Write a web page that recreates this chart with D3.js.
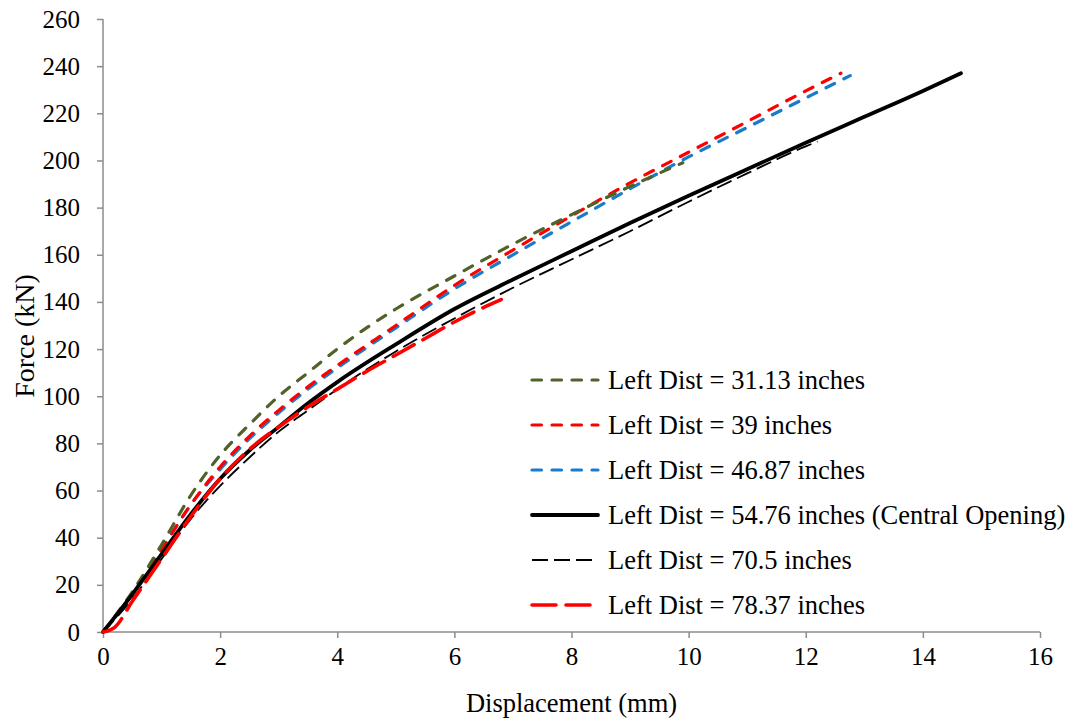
<!DOCTYPE html>
<html>
<head>
<meta charset="utf-8">
<script src="https://cdn.jsdelivr.net/npm/d3@7"></script>
<style>
  html, body { margin: 0; padding: 0; background: #fff; }
  svg { display: block; }
  text { font-family: "Liberation Serif", "Times New Roman", serif; fill: #000; }
</style>
</head>
<body>
<svg id="chart" width="1073" height="720"></svg>
<script>
// ---- data ----
const seriesLabels = [
  "Left Dist = 31.13 inches",
  "Left Dist = 39 inches",
  "Left Dist = 46.87 inches",
  "Left Dist = 54.76 inches (Central Opening)",
  "Left Dist = 70.5 inches",
  "Left Dist = 78.37 inches"
];
const xTicks = [0, 2, 4, 6, 8, 10, 12, 14, 16];
const yTicks = [0, 20, 40, 60, 80, 100, 120, 140, 160, 180, 200, 220, 240, 260];

const disp31 = [0, 0.5, 1, 1.5, 2, 2.5, 3, 3.5, 4, 4.5, 5, 6, 7, 8, 9, 9.9];
const force31 = [0, 17, 37, 58, 75, 88, 100, 110, 120, 129, 137, 151, 164.5, 177, 189, 199];

const disp39 = [0, 0.5, 1, 1.5, 2, 2.5, 3, 3.5, 4, 5, 6, 7, 8, 9, 10, 11, 12, 12.6];
const force39 = [0, 16, 35, 54, 70, 83, 94, 104, 113, 130, 147, 162, 176.5, 190.5, 203.5, 216.5, 229.5, 237];

const disp46 = [0, 0.5, 1, 1.5, 2, 2.5, 3, 3.5, 4, 5, 6, 7, 8, 9, 10, 11, 12, 12.76];
const force46 = [0, 16, 35, 54, 69, 82, 93, 103, 112, 129, 145.5, 160, 174, 188, 201.5, 214, 226.5, 236];

const disp54 = [0, 0.5, 1, 1.5, 2, 2.5, 3, 3.5, 4, 5, 6, 7, 8, 9, 10, 11, 12, 13, 14, 14.65];
const force54 = [0, 16, 33, 50, 65, 77, 87, 97, 106, 122, 137, 149.5, 161.5, 173.5, 185, 196.3, 207.5, 218.5, 229.5, 237];

const disp70 = [0, 0.5, 1, 1.5, 2, 2.5, 3, 3.5, 4, 5, 6, 7, 8, 9, 10, 11, 12, 12.2];
const force70 = [0, 14, 31, 48, 62, 74, 85, 94, 103, 119, 133, 146, 158, 170, 182.5, 194.5, 206, 208];

const disp78 = [0, 0.2, 0.5, 1, 1.5, 2, 2.5, 3, 3.5, 4, 4.5, 5, 5.5, 6, 6.4, 6.8];
const force78 = [0, 2, 13, 31, 49, 65, 77.5, 87, 95.5, 103, 110.5, 117.5, 124.5, 131.5, 136.5, 141];

// ---- layout ----
const W = 1073, H = 720;
const m = { left: 103, right: 33, top: 19, bottom: 88 };
const svg = d3.select("#chart");

const x = d3.scaleLinear().domain([0, 16]).range([m.left, W - m.right]);
const y = d3.scaleLinear().domain([0, 260]).range([H - m.bottom, m.top]);

const axisColor = "#8c8c8c";

// axes
const xAxis = svg.append("g")
  .attr("transform", `translate(0,${H - m.bottom})`)
  .call(d3.axisBottom(x).tickValues(xTicks).tickSize(6).tickPadding(9).tickFormat(d3.format("d")));
const yAxis = svg.append("g")
  .attr("transform", `translate(${m.left},0)`)
  .call(d3.axisLeft(y).tickValues(yTicks).tickSize(6).tickPadding(17).tickFormat(d3.format("d")));

[xAxis, yAxis].forEach(g => {
  g.select(".domain").attr("stroke", axisColor).attr("stroke-width", 1.5);
  g.selectAll(".tick line").attr("stroke", axisColor).attr("stroke-width", 1.5);
  g.selectAll(".tick text")
    .attr("font-family", '"Liberation Serif", "Times New Roman", serif')
    .attr("font-size", 25).attr("fill", "#000");
});
xAxis.select(".domain").attr("d", `M${x(0)},0H${x(16)}`);
yAxis.select(".domain").attr("d", `M0,${y(0)}V${y(260)}`);

// axis titles
svg.append("text")
  .attr("x", (x(0) + x(16)) / 2).attr("y", 712)
  .attr("text-anchor", "middle").attr("font-size", 26.5)
  .text("Displacement (mm)");
svg.append("text")
  .attr("transform", `translate(34,336) rotate(-90)`)
  .attr("text-anchor", "middle").attr("font-size", 28)
  .text("Force (kN)");

// series (drawing order)
const s31 = { label: seriesLabels[0], xs: disp31, ys: force31, color: "#4f6228", width: 3.2, dash: "9.5,10.5", cap: "round" };
const s39 = { label: seriesLabels[1], xs: disp39, ys: force39, color: "#ff0000", width: 3.2, dash: "9.5,10.5", cap: "round" };
const s46 = { label: seriesLabels[2], xs: disp46, ys: force46, color: "#1a7bcb", width: 3.2, dash: "9.5,10.5", cap: "round" };
const s54 = { label: seriesLabels[3], xs: disp54, ys: force54, color: "#000000", width: 3.8, dash: null, cap: "round" };
const s70 = { label: seriesLabels[4], xs: disp70, ys: force70, color: "#000000", width: 1.8, dash: "16,6", cap: "butt" };
const s78 = { label: seriesLabels[5], xs: disp78, ys: force78, color: "#ff0000", width: 3.6, dash: "24,10", cap: "round" };

const drawOrder = [s46, s39, s31, s70, s54, s78];
const legendRows = [s31, s39, s46, s54, s70, s78];

const line = d3.line().x(d => x(d[0])).y(d => y(d[1])).curve(d3.curveMonotoneX);

drawOrder.forEach(s => {
  const pts = s.xs.map((v, i) => [v, s.ys[i]]);
  svg.append("path")
    .datum(pts)
    .attr("d", line)
    .attr("fill", "none")
    .attr("stroke", s.color)
    .attr("stroke-width", s.width)
    .attr("stroke-dasharray", s.dash)
    .attr("stroke-linecap", s.cap)
    .attr("stroke-linejoin", "round");
});

// legend
const legY0 = 380, legDY = 45;
const lg = svg.append("g");
legendRows.forEach((s, i) => {
  const yy = legY0 + i * legDY;
  lg.append("line")
    .attr("x1", 532).attr("x2", 598).attr("y1", yy).attr("y2", yy)
    .attr("stroke", s.color)
    .attr("stroke-width", s.width)
    .attr("stroke-dasharray", s.dash)
    .attr("stroke-linecap", s.cap);
  lg.append("text")
    .attr("x", 608).attr("y", yy).attr("dy", "0.33em")
    .attr("font-size", 26.5)
    .text(s.label);
});
</script>
</body>
</html>
